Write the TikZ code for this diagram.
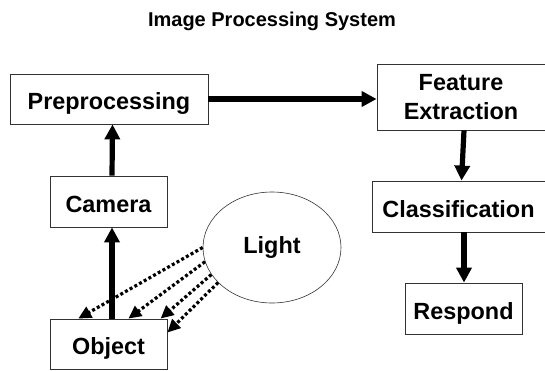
\documentclass[tikz,border=0pt]{standalone}
\usepackage{fontspec}
\setmainfont{Liberation Sans}
\usetikzlibrary{positioning,arrows.meta,shapes.geometric}

\begin{document}
\begin{tikzpicture}[x=1pt, y=-1pt,
    box/.style={draw=black!80, line width=0.8pt, inner sep=0pt,
        font=\bfseries\fontsize{23.4}{29}\selectfont},
    oneline/.style={text height=21pt, text depth=0pt},
    flow/.style={line width=5.2pt, -{Triangle[length=15pt,width=15pt]}},
    ray/.style={line width=3.2pt, dash pattern=on 3pt off 2.4pt,
        -{Triangle[length=13pt,width=12pt]}}]
    \useasboundingbox (0,0) rectangle (545,371);

    % title
    \node[font=\bfseries\fontsize{20}{24}\selectfont, anchor=base] (title) at (272,27) {Image Processing System};

    % left column
    \node[box, oneline, minimum width=198pt, minimum height=50pt] (prep) at (109,99) {Preprocessing};
    \node[box, oneline, minimum width=117pt, minimum height=51pt] (camera) at (108.5,201.5) {Camera};
    \node[box, oneline, minimum width=117pt, minimum height=50pt] (object) at (108.5,344) {Object};

    % light source
    \node[draw=black!80, line width=0.6pt, ellipse, minimum width=138pt, minimum height=111pt,
        font=\bfseries\fontsize{23.4}{29}\selectfont] (light) at (272,247.5) {Light};

    % right column
    \node[box, align=center, minimum width=168pt, minimum height=66pt] (feature) at (461,97) {Feature\\Extraction};
    \node[box, oneline, minimum width=173pt, minimum height=51pt] (classify) at (458.5,206.5) {Classification};
    \node[box, oneline, minimum width=117pt, minimum height=51pt] (respond) at (463.5,308.5) {Respond};

    % processing flow
    \draw[flow] ([xshift=3.5pt]object.north) -- ([xshift=3.5pt]camera.south);
    \draw[flow] ([xshift=3.5pt]camera.north) -- ([xshift=3.5pt]prep.south);
    \draw[flow] (prep.east) -- (prep.east -| feature.west);
    \draw[flow] ([xshift=3pt]feature.south) -- ([xshift=3pt]classify.south |- classify.north);
    \draw[flow] ([xshift=5.5pt]classify.south) -- ([xshift=5.5pt]classify.south |- respond.north);

    % light rays
    \draw[ray] (light.180) -- (object.140.7);
    \draw[ray] (light.192) -- (object.52);
    \draw[ray] (light.204) -- (object.26.8);
    \draw[ray] (light.213) -- (object.11.6);
\end{tikzpicture}
\end{document}
